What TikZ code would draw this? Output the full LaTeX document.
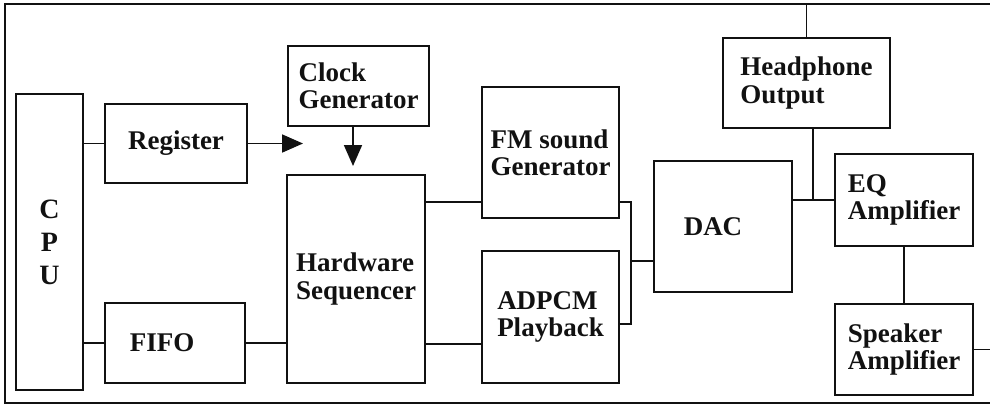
\documentclass[tikz,border=0pt]{standalone}
\usepackage{fontspec}
\setmainfont{Liberation Serif}
\usepackage{tikz}
\usetikzlibrary{arrows.meta,positioning,calc}
\definecolor{BlockInk}{HTML}{111111}
\tikzset{
  blockbox/.style={draw=BlockInk,line width=0.9pt,align=center,inner sep=2pt,font=\fontsize{13.5}{13.6}\selectfont\bfseries,text=BlockInk},
  leftbox/.style={blockbox,align=left},
  sigline/.style={line width=0.9pt,draw=BlockInk},
  ctrlarrow/.style={-{Triangle[length=10.5pt,width=9pt]},line width=0.9pt,draw=BlockInk},
  frameline/.style={line width=0.9pt,draw=BlockInk}
}
\begin{document}
\begin{tikzpicture}[x=0.5pt,y=-0.5pt]
\useasboundingbox (0,0) rectangle (990,407);
% outer frame, open on the right
\coordinate (ftl) at (5,4);
\coordinate (fbr) at (990,403);
\draw[frameline] (ftl -| fbr) -- (ftl) -- (ftl |- fbr) -- (fbr);
% blocks
\node[blockbox,minimum width=33.5pt,minimum height=148pt,font=\fontsize{14}{16.5}\selectfont\bfseries] (cpu) at (49.5,242) {C\\P\\U};
\node[blockbox,minimum width=71pt,minimum height=39.5pt] (reg) at (176,143.5) {Register};
\node[blockbox,minimum width=70pt,minimum height=40pt] (fifo) at (175,343) {FIFO\hspace*{13pt}};
\node[leftbox,minimum width=70.5pt,minimum height=40pt] (clk) at (358.5,86) {Clock\\Generator};
\node[leftbox,minimum width=69pt,minimum height=104pt] (hw) at (356,279) {Hardware\\Sequencer};
\node[leftbox,minimum width=68.5pt,minimum height=65.5pt] (fm) at (550.5,152.5) {FM sound\\Generator};
\node[leftbox,minimum width=68.5pt,minimum height=66pt] (adpcm) at (550.5,317) {ADPCM\\Playback};
\node[blockbox,minimum width=69pt,minimum height=65.5pt] (dac) at (723,226.5) {DAC\hspace*{10pt}};
\node[leftbox,minimum width=83.5pt,minimum height=45pt] (hp) at (806.5,83) {Headphone\\Output};
\node[leftbox,minimum width=69pt,minimum height=46pt] (eq) at (904,200) {EQ\\Amplifier};
\node[leftbox,minimum width=69pt,minimum height=45.5pt] (spk) at (904,349.5) {Speaker\\Amplifier};
% CPU side
\draw[sigline] (reg.west) -- (reg.west -| cpu.east);
\draw[sigline] (fifo.west) -- (fifo.west -| cpu.east);
\draw[sigline] (fifo.east) -- (fifo.east -| hw.west);
\coordinate (regtip) at (303,146);
\draw[ctrlarrow] (reg.east) -- (reg.east -| regtip);
\coordinate (clktip) at (353,166);
\draw[ctrlarrow] (clktip |- clk.south) -- (clktip);
% sequencer to sound sources
\draw[sigline] ([yshift=8.5pt]fm.south west) -- ([yshift=8.5pt]fm.south west -| hw.east);
\draw[sigline] ([yshift=20pt]adpcm.south west) -- ([yshift=20pt]adpcm.south west -| hw.east);
\coordinate (bus) at (631,261);
\draw[sigline] ([yshift=8.5pt]fm.south east) -| (bus) |- ([yshift=30pt]adpcm.south east);
\draw[sigline] (bus) -- (bus -| dac.west);
% output stage
\coordinate (hpjoin) at (813,200);
\draw[sigline] (dac.east |- eq.west) -- (eq.west);
\draw[sigline] (hpjoin) -- (hpjoin |- hp.south);
\draw[sigline] (hp.north) -- (hp.north |- ftl);
\draw[sigline] (eq.south) -- (spk.north);
\draw[sigline] (spk.east) -- (spk.east -| fbr);
\end{tikzpicture}
\end{document}
